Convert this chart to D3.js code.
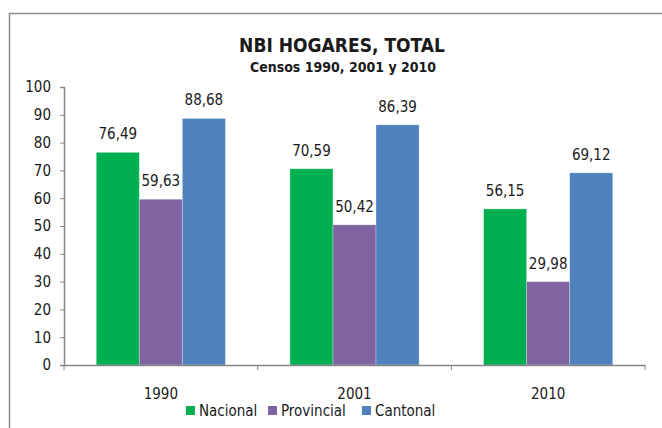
<!DOCTYPE html>
<html lang="es">
  <head>
    <meta charset="UTF-8" />
    <title>NBI Hogares</title>
    <script src="https://cdn.jsdelivr.net/npm/d3@7/dist/d3.min.js"></script>
    <style>
      body { margin: 0; background: #fff; }
      text { font-family: "Liberation Sans Narrow", "DejaVu Sans Condensed", sans-serif; font-stretch: condensed; fill: #1a1a1a; }
    </style>
  </head>
  <body>
    <svg width="662" height="428"></svg>
  </body>
  <script>
    var years = ["1990", "2001", "2010"];
    var seriesNames = ["Nacional", "Provincial", "Cantonal"];
    var nacional = [76.49, 70.59, 56.15];
    var provincial = [59.63, 50.42, 29.98];
    var cantonal = [88.68, 86.39, 69.12];
    var colors = ["#00B050", "#8064A2", "#4F81BD"];
    var yTicks = [0, 10, 20, 30, 40, 50, 60, 70, 80, 90, 100];

    var svg = d3.select("svg");
    var values = [nacional, provincial, cantonal];

    // frame
    svg.append("path")
      .attr("d", "M9.5,440 V13.5 H670")
      .attr("fill", "none")
      .attr("stroke", "#8c8c8c")
      .attr("stroke-width", 1.5);

    var mLeft = 64, mRight = 645, mTop = 87, mBottom = 365;

    var x0 = d3.scaleBand().domain(years).range([mLeft, mRight]).paddingInner(0).paddingOuter(0);
    var x1 = d3.scaleBand().domain(seriesNames).range([0, x0.bandwidth()]).paddingOuter(0.75);
    var y = d3.scaleLinear().domain([0, 100]).range([mBottom, mTop]);

    // title
    svg.append("text").attr("x", 342).attr("y", 52).attr("text-anchor", "middle")
      .style("font-size", "19px").style("font-weight", "bold").text("NBI HOGARES, TOTAL");
    svg.append("text").attr("x", 343).attr("y", 72).attr("text-anchor", "middle")
      .style("font-size", "14px").style("font-weight", "bold").text("Censos 1990, 2001 y 2010");

    // bars
    var groups = svg.selectAll("g.grp").data(years).enter().append("g")
      .attr("class", "grp")
      .attr("transform", (d) => "translate(" + x0(d) + ",0)");

    groups.selectAll("rect")
      .data((d, i) => seriesNames.map((s, j) => ({ s: s, v: values[j][i], c: colors[j] })))
      .enter().append("rect")
      .attr("x", (d) => x1(d.s))
      .attr("y", (d) => y(d.v))
      .attr("width", x1.bandwidth())
      .attr("height", (d) => y(0) - y(d.v))
      .attr("fill", (d) => d.c)
      .attr("stroke", "rgba(255,255,255,0.35)")
      .attr("stroke-width", 0.8);

    groups.selectAll("text.lbl")
      .data((d, i) => seriesNames.map((s, j) => ({ s: s, v: values[j][i] })))
      .enter().append("text")
      .attr("class", "lbl")
      .attr("x", (d) => x1(d.s) + x1.bandwidth() / 2)
      .attr("y", (d) => y(d.v) - 13)
      .attr("text-anchor", "middle")
      .style("font-size", "15px")
      .text((d) => d3.format(".2f")(d.v).replace(".", ","));

    // y axis
    var yAxis = d3.axisLeft(y).tickValues(yTicks).tickSize(4).tickPadding(9);
    var gy = svg.append("g").attr("transform", "translate(" + mLeft + ",0)").call(yAxis);
    gy.selectAll("text").style("font-size", "15px").attr("fill", "#1a1a1a");

    // x axis
    var xAxis = d3.axisBottom(x0).tickSize(0).tickPadding(23);
    var gx = svg.append("g").attr("transform", "translate(0," + mBottom + ")").call(xAxis);
    gx.selectAll("text").style("font-size", "15px").attr("fill", "#1a1a1a");
    gx.selectAll(".sep").data(d3.range(years.length + 1)).enter().append("line")
      .attr("class", "sep")
      .attr("x1", (d) => mLeft + d * x0.step())
      .attr("x2", (d) => mLeft + d * x0.step())
      .attr("y1", 0).attr("y2", 5)
      .attr("stroke", "#868686");

    svg.selectAll(".domain").attr("stroke", "#868686").attr("stroke-width", 1.5);
    svg.selectAll(".tick line").attr("stroke", "#868686");

    // legend
    var legendX = [186, 268, 362];
    var leg = svg.selectAll("g.leg").data(seriesNames).enter().append("g")
      .attr("class", "leg")
      .attr("transform", (d, i) => "translate(" + legendX[i] + ",406)");
    leg.append("rect").attr("width", 9).attr("height", 9).attr("fill", (d, i) => colors[i]);
    leg.append("text").attr("x", 13).attr("y", 9.5).style("font-size", "15px").text((d) => d);
  </script>
</html>
